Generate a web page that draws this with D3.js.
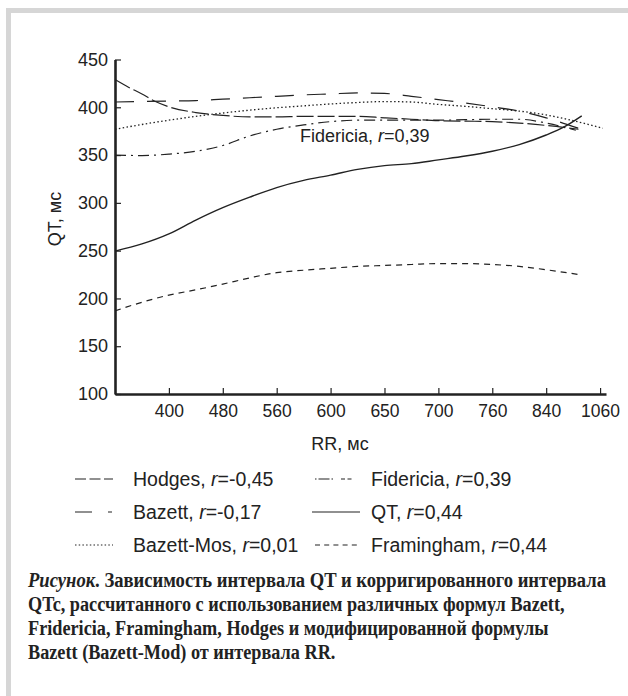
<!DOCTYPE html>
<html>
<head>
<meta charset="utf-8">
<script src="https://cdn.jsdelivr.net/npm/d3@7"></script>
<style>
  body { margin: 0; background: #fff; }
  svg text { fill: #222; }
</style>
</head>
<body>
<div id="chart"></div>
<script>
// RR tick labels sit at positions 1..9 of the axis, 0 is the origin
const rrTicks = ['400', '480', '560', '600', '650', '700', '760', '840', '1060'];
const qtTicks = [100, 150, 200, 250, 300, 350, 400, 450];

// [position on RR axis, QT value]
const hodges = [[0, 405.5], [0.5, 406], [1, 406.5], [1.5, 407], [2, 408.5], [2.5, 410], [3, 411.5], [3.5, 413],
  [4, 414], [4.5, 415], [5, 414.5], [5.5, 411.5], [6, 408], [6.5, 404.5], [7, 400.5], [7.5, 396], [8, 389], [8.6, 378]];
const bazett = [[0, 429], [0.25, 421], [0.5, 414], [0.75, 406], [1, 400.5], [1.5, 394.5], [2, 391.5], [2.5, 390],
  [3, 390], [3.5, 390.5], [4, 390.5], [4.5, 390.5], [5, 389], [5.5, 387.5], [6, 386], [6.5, 385.5], [7, 385],
  [7.5, 383.5], [8, 381], [8.6, 377]];
const bazettMos = [[0, 377], [0.5, 382], [1, 386.5], [1.5, 390.5], [2, 394], [2.5, 397], [3, 399.5], [3.5, 401.5],
  [4, 403.5], [4.5, 405], [5, 406], [5.5, 405.5], [6, 403], [6.5, 401], [7, 398.5], [7.5, 396], [8, 392],
  [8.5, 386], [9.05, 378]];
const fidericia = [[0, 350], [0.5, 349.5], [1, 351], [1.5, 354], [2, 360], [2.5, 370], [3, 377], [3.5, 381.5],
  [4, 385], [4.5, 386.5], [5, 386.5], [5.5, 386.5], [6, 386.5], [6.5, 387], [7, 387.5], [7.5, 387.5], [8, 383.5],
  [8.55, 376]];
const qt = [[0, 249.5], [0.5, 257], [1, 267.5], [1.5, 282], [2, 295], [2.5, 306], [3, 316], [3.5, 323.5], [4, 329],
  [4.5, 335], [5, 339], [5.5, 341], [6, 345], [6.5, 349], [7, 354], [7.5, 361], [8, 371], [8.35, 380], [8.66, 391]];
const framingham = [[0, 187], [0.5, 196], [1, 203.5], [1.5, 209], [2, 215], [2.5, 221.5], [3, 227], [3.5, 229.5],
  [4, 231.5], [4.5, 233.5], [5, 234.5], [5.5, 235.5], [6, 236.5], [6.5, 236.5], [7, 235.5], [7.5, 233.5],
  [8, 230], [8.6, 225]];

const legendNames = ['Hodges', 'Bazett', 'Bazett-Mos', 'Fidericia', 'QT', 'Framingham'];
const legendR = ['-0,45', '-0,17', '0,01', '0,39', '0,44', '0,44'];

const captionLines = [
  'Зависимость интервала QT и корригированного интервала',
  'QTc, рассчитанного с использованием различных формул Bazett,',
  'Fridericia, Framingham, Hodges и модифицированной формулы',
  'Bazett (Bazett-Mod) от интервала RR.'
];

const W = 628, H = 696;
const ink = '#222';
const font = '"Liberation Sans", Arial, sans-serif';

const svg = d3.select('#chart').append('svg').attr('width', W).attr('height', H)
  .style('font-family', font);

// grey frame, top and left only
svg.append('rect').attr('x', 6).attr('y', 8).attr('width', W - 6).attr('height', 5).attr('fill', '#d6d6d6');
svg.append('rect').attr('x', 6).attr('y', 8).attr('width', 5).attr('height', H - 8).attr('fill', '#d6d6d6');

const x = d3.scaleLinear().domain([0, 9.11]).range([115, 606]);
const y = d3.scaleLinear().domain([100, 450]).range([394, 59.5]);

const styles = {
  hodges: { dash: '19,13', width: 1.2 },
  bazett: { dash: '17,4', width: 1.2 },
  bazettMos: { dash: '1.5,2.4', width: 1.3 },
  fidericia: { dash: '11,5,2,5', width: 1.2 },
  qt: { dash: null, width: 1.4 },
  framingham: { dash: '6,5', width: 1.2 }
};

const line = d3.line().x(d => x(d[0])).y(d => y(d[1])).curve(d3.curveMonotoneX);
const series = [['hodges', hodges], ['bazett', bazett], ['bazettMos', bazettMos],
  ['fidericia', fidericia], ['qt', qt], ['framingham', framingham]];

series.forEach(([key, data]) => {
  svg.append('path').datum(data).attr('d', line).attr('fill', 'none')
    .attr('stroke', ink).attr('stroke-width', styles[key].width)
    .attr('stroke-dasharray', styles[key].dash);
});

// axes
const xAxis = svg.append('g').attr('transform', `translate(0,${y(100)})`)
  .call(d3.axisBottom(x).tickValues(d3.range(1, 10)).tickFormat(i => rrTicks[i - 1])
    .tickSizeInner(-6).tickSizeOuter(0).tickPadding(11));
const yAxis = svg.append('g').attr('transform', `translate(${x(0)},0)`)
  .call(d3.axisLeft(y).tickValues(qtTicks).tickSizeInner(-6).tickSizeOuter(0).tickPadding(7));

[xAxis, yAxis].forEach(g => {
  g.select('.domain').attr('stroke', ink).attr('stroke-width', 2.6);
  g.selectAll('.tick line').attr('stroke', ink).attr('stroke-width', 1.2);
  g.selectAll('.tick text').attr('fill', ink).style('font-size', '17.5px').style('font-family', font);
});
yAxis.selectAll('.tick text').style('font-size', '18px');

svg.append('text').attr('transform', 'translate(61,219) rotate(-90)').attr('text-anchor', 'middle')
  .style('font-size', '18px').text('QT, мс');
svg.append('text').attr('x', 340).attr('y', 450).attr('text-anchor', 'middle')
  .style('font-size', '18px').text('RR, мс');

// in-plot label
const lab = svg.append('text').attr('x', 300).attr('y', 142).style('font-size', '18px');
lab.append('tspan').text('Fidericia, ');
lab.append('tspan').style('font-style', 'italic').text('r');
lab.append('tspan').text('=0,39');

// legend
const legendKeys = ['hodges', 'bazett', 'bazettMos', 'fidericia', 'qt', 'framingham'];
const legendDash = {
  hodges: '11,3.5', bazett: '17,16,4,20', bazettMos: '1.5,2.2',
  fidericia: '1.5,2,11,2,1.5,8,4,2.5,4,30', qt: null, framingham: '5,4.2'
};
const legendSpan = { hodges: [75, 113], bazett: [75, 113], bazettMos: [75, 113],
  fidericia: [315, 357], qt: [312, 360], framingham: [315, 357] };
legendKeys.forEach((key, i) => {
  const col = Math.floor(i / 3), row = i % 3;
  const ly = 479 + row * 33;
  svg.append('line').attr('x1', legendSpan[key][0]).attr('x2', legendSpan[key][1]).attr('y1', ly).attr('y2', ly)
    .attr('stroke', ink).attr('stroke-width', 1.2).attr('stroke-dasharray', legendDash[key]);
  const t = svg.append('text').attr('x', col === 0 ? 133 : 371).attr('y', ly + 7).style('font-size', '19.5px');
  t.append('tspan').text(legendNames[i] + ', ');
  t.append('tspan').style('font-style', 'italic').text('r');
  t.append('tspan').text('=' + legendR[i]);
});

// caption, condensed bold serif (first line is set a bit wider, as justified)
const cap = svg.append('g')
  .style('font-family', '"Liberation Serif", "Times New Roman", serif')
  .style('font-weight', 'bold').style('font-size', '20px');
captionLines.forEach((s, i) => {
  const sx = i === 0 ? 0.93 : 0.912;
  const t = cap.append('text').attr('transform', `translate(28,${587 + i * 24}) scale(${sx},1)`);
  if (i === 0) {
    t.append('tspan').style('font-style', 'italic').text('Рисунок');
    t.append('tspan').text('. ' + s);
  } else {
    t.text(s);
  }
});
</script>
</body>
</html>
